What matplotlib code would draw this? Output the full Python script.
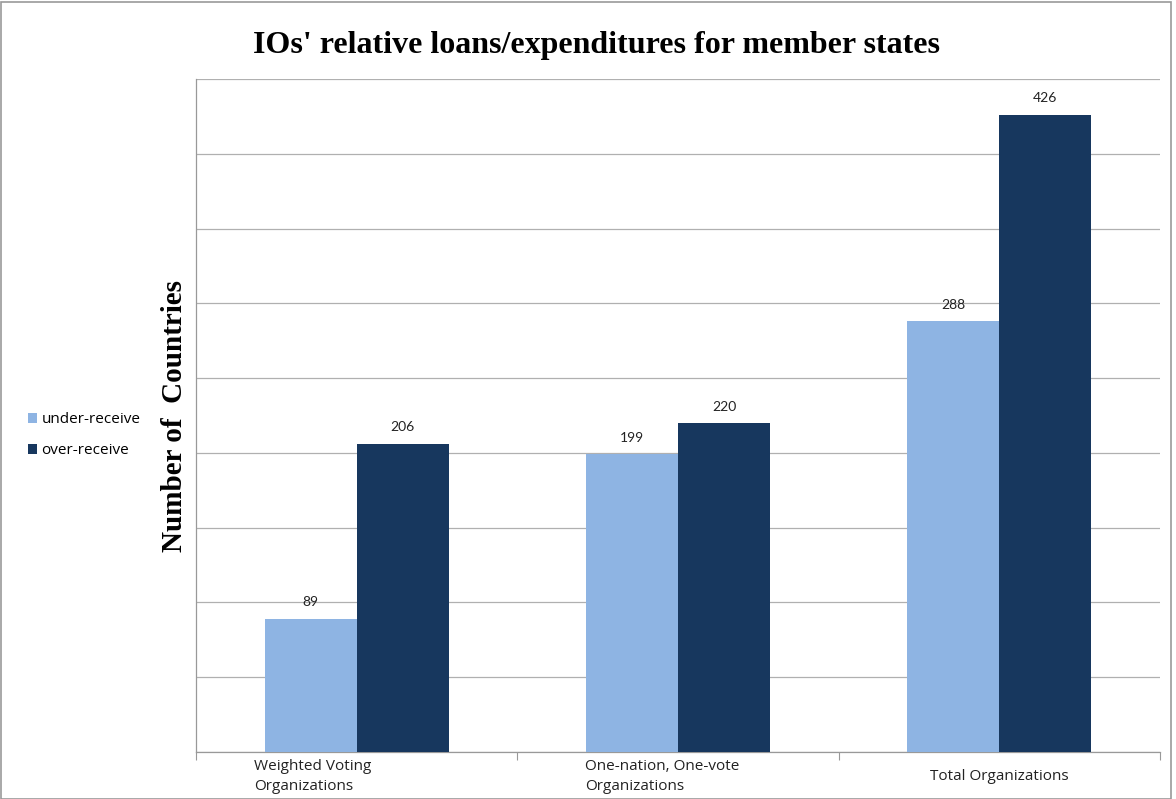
import matplotlib.pyplot as plt
from matplotlib.patches import Rectangle
import numpy as np

# counts of member states per organisation type
groups = ["Weighted Voting\nOrganizations",
          "One-nation, One-vote\nOrganizations",
          "Total Organizations"]
under_receive = [89, 199, 288]
over_receive = [206, 220, 426]
label_shift = [-0.32, -0.29, 0.0]   # wrapped category labels sit left of centre

light = "#8EB4E3"
dark = "#17375E"
grid_c = "#B0B0B0"

fig = plt.figure(figsize=(11.76, 7.99), dpi=100)
ax = fig.add_axes([0.1667, 0.0588, 0.8197, 0.8423])

x = np.arange(len(groups))
w = 0.286
b1 = ax.bar(x - w / 2, under_receive, w, color=light, label="under-receive", zorder=3)
b2 = ax.bar(x + w / 2, over_receive, w, color=dark, label="over-receive", zorder=3)

for bars in (b1, b2):
    for r in bars:
        ax.text(r.get_x() + r.get_width() / 2, r.get_height() + 11,
                f"{int(r.get_height())}", ha="center", va="center",
                fontsize=10, family="Lato", color="#222222")

ax.set_xlim(-0.5, len(groups) - 0.5)
ax.set_ylim(0, 450)
ax.set_yticks(np.arange(0, 451, 50))
ax.set_yticklabels([])
ax.tick_params(axis="y", length=0)
ax.grid(axis="y", color=grid_c, linewidth=0.9, zorder=0)

# category boundary ticks on the x axis
ax.set_xticks(np.arange(-0.5, len(groups)), minor=False)
ax.set_xticklabels([])
ax.tick_params(axis="x", length=6, color="#999999", direction="out")
for i, g in enumerate(groups):
    ha = "left" if "\n" in g else "center"
    ax.text(i + label_shift[i], -0.036, g, transform=ax.get_xaxis_transform(),
            ha=ha, va="center", fontsize=11, family="Open Sans",
            color="#222222", linespacing=1.45)

for s in ("top", "right"):
    ax.spines[s].set_visible(False)
for s in ("left", "bottom"):
    ax.spines[s].set_color("#999999")
    ax.spines[s].set_linewidth(0.9)

ax.set_ylabel("Number of  Countries", family="Liberation Serif",
              fontweight="bold", fontsize=21, labelpad=2)
fig.text(0.507, 0.943, "IOs' relative loans/expenditures for member states",
         ha="center", va="center", family="Liberation Serif",
         fontweight="bold", fontsize=23)

leg = fig.legend(loc="center left", bbox_to_anchor=(0.012, 0.455),
                 frameon=False, prop={"family": "Open Sans", "size": 11},
                 handlelength=0.6, handleheight=0.6, handletextpad=0.3,
                 labelspacing=1.05)

fig.patches.append(Rectangle((0.001, 0.0), 0.995, 0.998, transform=fig.transFigure,
                             fill=False, edgecolor="#999999", linewidth=1.2))

fig.savefig("out.png", dpi=100)
